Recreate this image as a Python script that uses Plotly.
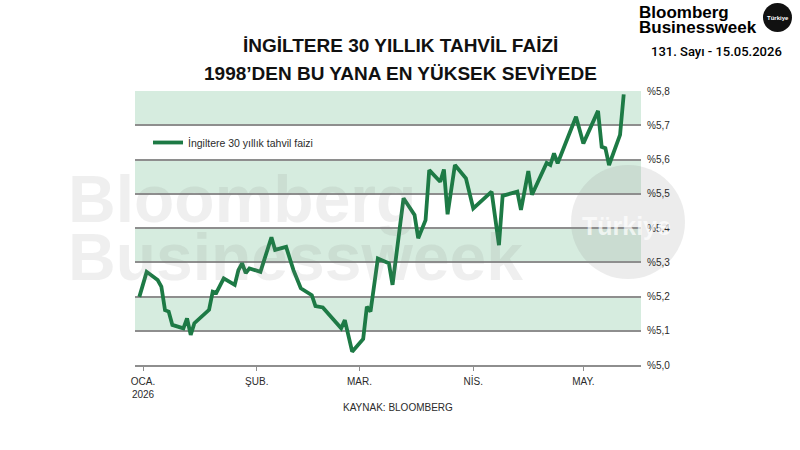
import plotly.graph_objects as go

# ---- data ----
dates = [
    "2025-12-31", "2026-01-02", "2026-01-05", "2026-01-06", "2026-01-07", "2026-01-08",
    "2026-01-09", "2026-01-12", "2026-01-13", "2026-01-14", "2026-01-15", "2026-01-19",
    "2026-01-20", "2026-01-21", "2026-01-23", "2026-01-26", "2026-01-27", "2026-01-28",
    "2026-01-29", "2026-01-30", "2026-02-02", "2026-02-05", "2026-02-06", "2026-02-09",
    "2026-02-11", "2026-02-13", "2026-02-16", "2026-02-17", "2026-02-19", "2026-02-24",
    "2026-02-25", "2026-02-27", "2026-03-02", "2026-03-03", "2026-03-04", "2026-03-06",
    "2026-03-09", "2026-03-10", "2026-03-13", "2026-03-16", "2026-03-17", "2026-03-19",
    "2026-03-20", "2026-03-23", "2026-03-24", "2026-03-25", "2026-03-27", "2026-03-30",
    "2026-04-01", "2026-04-06", "2026-04-08", "2026-04-09", "2026-04-13", "2026-04-14",
    "2026-04-16", "2026-04-17", "2026-04-21", "2026-04-22", "2026-04-23", "2026-04-24",
    "2026-04-29", "2026-05-01", "2026-05-05", "2026-05-06", "2026-05-07", "2026-05-08",
    "2026-05-11", "2026-05-12",
]
yields = [
    5.199, 5.272, 5.248, 5.229, 5.160, 5.156,
    5.117, 5.107, 5.136, 5.088, 5.122, 5.161,
    5.214, 5.211, 5.253, 5.234, 5.277, 5.297,
    5.268, 5.282, 5.272, 5.373, 5.336, 5.345,
    5.277, 5.224, 5.204, 5.172, 5.168, 5.107,
    5.131, 5.039, 5.076, 5.170, 5.156, 5.311,
    5.297, 5.234, 5.487, 5.438, 5.370, 5.423,
    5.569, 5.535, 5.571, 5.440, 5.584, 5.545,
    5.457, 5.506, 5.350, 5.494, 5.506, 5.453,
    5.566, 5.497, 5.590, 5.584, 5.618, 5.589,
    5.725, 5.647, 5.742, 5.637, 5.633, 5.584,
    5.672, 5.790,
]
series_name = "İngiltere 30 yıllık tahvil faizi"
y_ticks = [5.0, 5.1, 5.2, 5.3, 5.4, 5.5, 5.6, 5.7, 5.8]
y_tick_labels = ["%5,0", "%5,1", "%5,2", "%5,3", "%5,4", "%5,5", "%5,6", "%5,7", "%5,8"]
x_tick_dates = ["2026-01-01", "2026-02-01", "2026-03-01", "2026-04-01", "2026-05-01"]
x_tick_labels = ["OCA.<br>2026", "ŞUB.", "MAR.", "NİS.", "MAY."]
band_ranges = [(5.1, 5.2), (5.3, 5.4), (5.5, 5.6), (5.7, 5.8)]

title_1 = "İNGİLTERE 30 YILLIK TAHVİL FAİZİ"
title_2 = "1998’DEN BU YANA EN YÜKSEK SEVİYEDE"
source = "KAYNAK: BLOOMBERG"

# ---- layout geometry (pixels) ----
W, H = 800, 450
L, R, T, B = 135, 641, 91, 365


def px(x):
    return (x - L) / (R - L)


def py(y):
    return (B - y) / (B - T)


LINE_COLOR = "#1d7a45"
BAND_COLOR = "#d6ecdf"
GRID_COLOR = "#8e8e8e"
TXT = "#2b2b2b"
FONT = "Liberation Sans"

fig = go.Figure()
fig.add_trace(go.Scatter(
    x=dates, y=yields, mode="lines", name=series_name,
    line=dict(color=LINE_COLOR, width=3.8),
    showlegend=True,
))

shapes = []
for lo, hi in band_ranges:
    shapes.append(dict(type="rect", xref="paper", yref="y", x0=0, x1=1, y0=lo, y1=hi,
                       fillcolor=BAND_COLOR, line=dict(width=0), layer="below"))
# watermark circle
shapes.append(dict(type="circle", xref="paper", yref="paper",
                   x0=px(571), x1=px(685), y0=py(279), y1=py(165),
                   fillcolor="rgba(140,140,140,0.17)", line=dict(width=0), layer="below"))
# logo circle
shapes.append(dict(type="circle", xref="paper", yref="paper",
                   x0=px(763), x1=px(792), y0=py(32), y1=py(3),
                   fillcolor="#111111", line=dict(width=0), layer="above"))

annotations = [
    dict(text=title_1, x=px(400), y=py(45), xref="paper", yref="paper", showarrow=False,
         xanchor="center", yanchor="middle", font=dict(family=FONT, size=19, color="#111111", weight="bold")),
    dict(text=title_2, x=px(400), y=py(73), xref="paper", yref="paper", showarrow=False,
         xanchor="center", yanchor="middle", font=dict(family=FONT, size=19, color="#111111", weight="bold")),
    dict(text=source, x=px(398), y=py(407), xref="paper", yref="paper", showarrow=False,
         xanchor="center", yanchor="middle", font=dict(family=FONT, size=10, color=TXT)),
    # watermark text
    dict(text="Bloomberg", x=px(66), y=py(199), xref="paper", yref="paper", showarrow=False,
         xanchor="left", yanchor="middle",
         font=dict(family=FONT, size=66, color="rgba(120,120,120,0.12)", weight="bold")),
    dict(text="Businessweek", x=px(66), y=py(257), xref="paper", yref="paper", showarrow=False,
         xanchor="left", yanchor="middle",
         font=dict(family=FONT, size=66, color="rgba(120,120,120,0.12)", weight="bold")),
    dict(text="Türkiye", x=px(580), y=py(226), xref="paper", yref="paper", showarrow=False,
         xanchor="left", yanchor="middle",
         font=dict(family=FONT, size=25, color="rgba(255,255,255,0.7)", weight="bold")),
    # logo
    dict(text="Bloomberg", x=px(637), y=py(12), xref="paper", yref="paper", showarrow=False,
         xanchor="left", yanchor="middle", font=dict(family=FONT, size=17, color="#000000", weight="bold")),
    dict(text="Businessweek", x=px(637), y=py(27), xref="paper", yref="paper", showarrow=False,
         xanchor="left", yanchor="middle", font=dict(family=FONT, size=17, color="#000000", weight="bold")),
    dict(text="Türkiye", x=px(777.5), y=py(17.5), xref="paper", yref="paper", showarrow=False,
         xanchor="center", yanchor="middle", font=dict(family=FONT, size=6, color="#ffffff", weight="bold")),
    dict(text="131. Sayı - 15.05.2026", x=px(716), y=py(52), xref="paper", yref="paper", showarrow=False,
         xanchor="center", yanchor="middle", font=dict(family="Roboto", size=13, color="#000000", weight=500)),
]

fig.update_layout(
    width=W, height=H,
    margin=dict(l=L, r=W - R, t=T, b=H - B, pad=0),
    paper_bgcolor="white", plot_bgcolor="white",
    font=dict(family=FONT, color=TXT, size=10),
    shapes=shapes, annotations=annotations,
    showlegend=True,
    legend=dict(x=px(148), y=py(142.5), xanchor="left", yanchor="middle",
                bgcolor="rgba(0,0,0,0)", font=dict(family=FONT, size=10.5, color=TXT),
                itemwidth=30),
    xaxis=dict(type="date", range=["2025-12-29 19:40", "2026-05-16 17:00"],
               tickvals=x_tick_dates, ticktext=x_tick_labels,
               showgrid=False, zeroline=False,
               showline=True, linecolor=GRID_COLOR, linewidth=1.5,
               ticks="outside", ticklen=4, tickwidth=1, tickcolor=GRID_COLOR,
               tickfont=dict(family=FONT, size=10, color=TXT), ticklabelstandoff=2),
    yaxis=dict(range=[5.0, 5.8], side="right", tickvals=y_ticks, ticktext=y_tick_labels,
               showgrid=True, gridcolor=GRID_COLOR, gridwidth=1.5, zeroline=False,
               showline=False, ticks="", ticklabelstandoff=5,
               tickfont=dict(family=FONT, size=10, color=TXT)),
)

fig.write_html("out.html")
